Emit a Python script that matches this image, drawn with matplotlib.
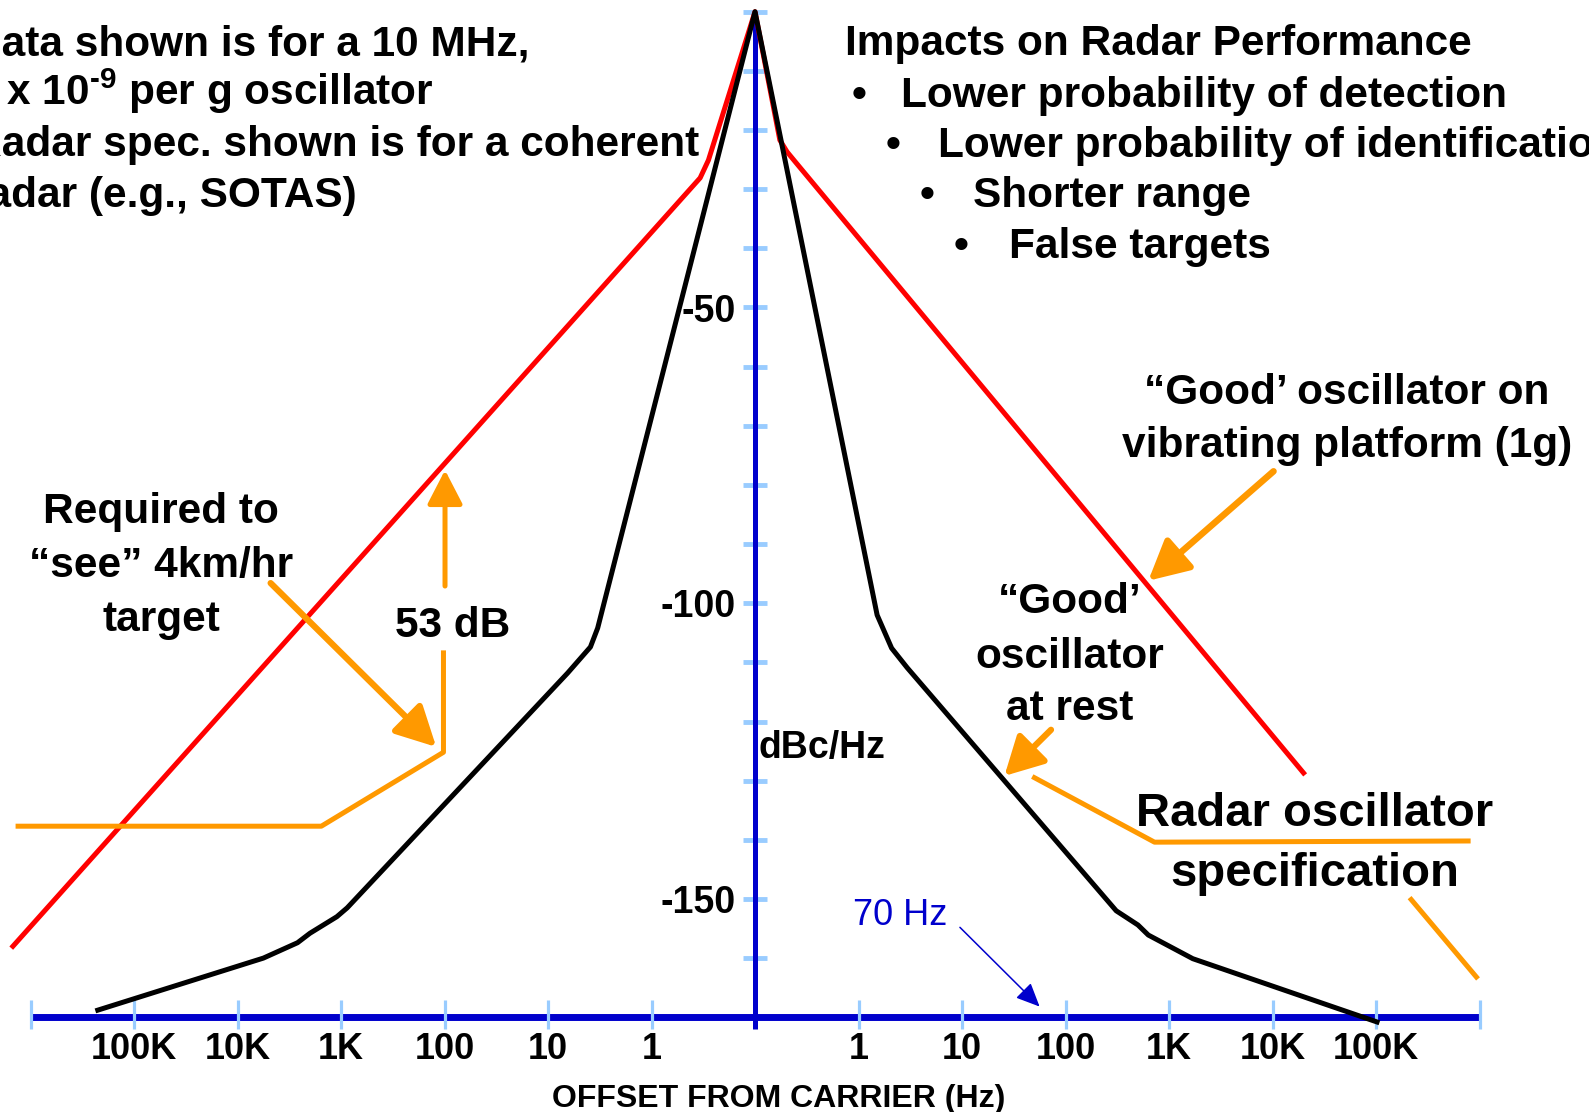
import matplotlib
matplotlib.use('Agg')
import matplotlib.pyplot as plt

plt.rcParams['font.family'] = ['Liberation Sans', 'DejaVu Sans']
plt.rcParams['mathtext.fontset'] = 'custom'
plt.rcParams['mathtext.rm'] = 'Liberation Sans:bold'
plt.rcParams['mathtext.bf'] = 'Liberation Sans:bold'
plt.rcParams['mathtext.default'] = 'bf'

# x = decades away from the carrier (+-1 -> 1 Hz, +-2 -> 10 Hz ... +-6 -> 100 kHz)
left_ticks = [-6, -5, -4, -3, -2, -1]
left_labels = ['100K', '10K', '1K', '100', '10', '1']
right_ticks = [1, 2, 3, 4, 5, 6]
right_labels = ['1', '10', '100', '1K', '10K', '100K']
axis_ends = [-7, 7]
end_ticks = [-7, 7]
db_ticks = list(range(0, -170, -10))
db_labels = [-50, -100, -150]
axis_floor = -170

# "Good" oscillator on vibrating platform (1g) - red
vib_x = [-7.17, -0.53, -0.45, 0.0, 0.24, 0.31, 0.39, 5.30]
vib_db = [-158.0, -28.1, -25.1, 0.0, -21.7, -23.7, -25.4, -128.7]

# "Good" oscillator at rest - black
rest_x = [-6.35, -4.75, -4.42, -4.30, -4.04, -3.94, -1.81, -1.59, -1.52, 0.0,
          1.18, 1.32, 1.47, 3.49, 3.70, 3.80, 4.23, 6.01]
rest_db = [-168.8, -160.0, -157.4, -155.8, -153.0, -151.5, -111.8, -107.4, -104.2, 0.0,
           -102.0, -107.6, -110.9, -152.0, -154.4, -156.1, -160.1, -170.8]

# radar oscillator specification (orange, left side)
spec_x = [-7.12, -4.19, -3.01, -3.01]
spec_db = [-137.7, -137.7, -125.2, -108.4]

# 53 dB gap arrow (from spec up to the red line)
gap_x = [-2.995, -2.995]
gap_db = [-97.1, -77.5]

# orange leaders and pointers
req_ptr_x = [-4.68, -3.08]
req_ptr_db = [-96.6, -124.3]
vib_ptr_x = [5.01, 3.80]
vib_ptr_db = [-77.7, -96.2]
rest_ptr_x = [2.86, 2.41]
rest_ptr_db = [-121.4, -129.2]
spec_lead_x = [2.70, 3.86, 6.89]
spec_lead_db = [-129.5, -140.4, -140.2]
spec_lead2_x = [6.34, 6.97]
spec_lead2_db = [-150.1, -163.2]

# 70 Hz pointer (blue)
hz70_x = [1.98, 2.75]
hz70_db = [-154.8, -168.2]

BLUE = '#0000CC'
LIGHT = '#99CCFF'
ORANGE = '#FF9900'

W, H = 1589, 1112
fig = plt.figure(figsize=(W / 100, H / 100), dpi=100)
ax = fig.add_axes([0, 0, 1, 1])
ax.set_xlim(-755 / 103.5, (W - 755) / 103.5)
ax.set_ylim(-(H - 11.7) / 5.915, 11.7 / 5.915)
ax.axis('off')


def fx(px):
    return px / W


def fy(py):
    return 1 - py / H


# axes
ax.hlines(db_ticks, -0.116, 0.116, color=LIGHT, lw=3.5, zorder=1)
ax.plot([0, 0], [0, -172], color=BLUE, lw=3.6, zorder=2, solid_capstyle='butt')
ax.plot(axis_ends, [axis_floor, axis_floor], color=BLUE, lw=5, zorder=2,
        solid_capstyle='butt')
ax.vlines(left_ticks + right_ticks + end_ticks, -167.1, -172, color=LIGHT, lw=2.3, zorder=3)

for t, lab in zip(left_ticks + right_ticks, left_labels + right_labels):
    ax.text(t, -177.1, lab, ha='center', va='baseline', fontsize=26,
            fontweight='bold')
for v in db_labels:
    ax.text(-0.19, v - 2.4, str(v), ha='right', va='baseline', fontsize=27,
            fontweight='bold')

# curves
ax.plot(vib_x, vib_db, color='#FF0000', lw=3.6, zorder=4, solid_joinstyle='round')
ax.plot(rest_x, rest_db, color='black', lw=3.6, zorder=5, solid_joinstyle='round')

# orange spec + leaders
ax.plot(spec_x, spec_db, color=ORANGE, lw=3.6, zorder=4)
ax.plot(spec_lead_x, spec_lead_db, color=ORANGE, lw=3.6, zorder=4)
ax.plot(spec_lead2_x, spec_lead2_db, color=ORANGE, lw=3.6, zorder=4)


def pointer(xs, ys, lw, hl, hw, ms, color=ORANGE):
    ax.annotate('', xy=(xs[1], ys[1]), xytext=(xs[0], ys[0]),
                arrowprops=dict(arrowstyle='-|>,head_length=%s,head_width=%s' % (hl, hw),
                                color=color, lw=lw, shrinkA=0, shrinkB=0,
                                mutation_scale=ms),
                zorder=6)


pointer(gap_x, gap_db, 3.6, 1.16, 0.6, 18)
pointer(req_ptr_x, req_ptr_db, 4.5, 1.35, 0.7, 18)
pointer(vib_ptr_x, vib_ptr_db, 4.7, 1.35, 0.7, 18)
pointer(rest_ptr_x, rest_ptr_db, 4.5, 1.3, 0.7, 18)
pointer(hz70_x, hz70_db, 1.1, 1.45, 0.65, 10, color=BLUE)

# text blocks
fs = 30.5
left_lines = ['Data shown is for a 10 MHz,',
              r'2 x 10$^{\text{-9}}$ per g oscillator',
              'Radar spec. shown is for a coherent',
              'radar (e.g., SOTAS)']
for line, b in zip(left_lines, [55, 105.5, 156, 207]):
    fig.text(fx(-28.5), fy(b), line, ha='left', va='baseline', fontsize=fs,
             fontweight='bold')

fig.text(fx(844.5), fy(55), 'Impacts on Radar Performance', ha='left',
         va='baseline', fontsize=fs, fontweight='bold')
impacts = ['Lower probability of detection', 'Lower probability of identification',
           'Shorter range', 'False targets']
for item, b, bx, tx in zip(impacts, [107, 157, 207, 258], [852, 886, 920, 954],
                           [901, 938, 973, 1009]):
    fig.text(fx(bx), fy(b), '\u2022', ha='left', va='baseline', fontsize=fs,
             fontweight='bold')
    fig.text(fx(tx), fy(b), item, ha='left', va='baseline', fontsize=fs,
             fontweight='bold')

for line, b in zip(['Required to', '\u201csee\u201d 4km/hr', 'target'], [523, 577, 631]):
    fig.text(fx(161), fy(b), line, ha='center', va='baseline', fontsize=fs,
             fontweight='bold')
fig.text(fx(453), fy(637), '53 dB', ha='center', va='baseline', fontsize=fs,
         fontweight='bold')

for line, b in zip(['\u201cGood\u2019 oscillator on', 'vibrating platform (1g)'], [404, 457]):
    fig.text(fx(1347), fy(b), line, ha='center', va='baseline', fontsize=fs,
             fontweight='bold')
for line, b in zip(['\u201cGood\u2019', 'oscillator', 'at rest'], [613, 667.5, 720.5]):
    fig.text(fx(1070), fy(b), line, ha='center', va='baseline', fontsize=fs,
             fontweight='bold')
for line, b in zip(['Radar oscillator', 'specification'], [825.6, 885.7]):
    fig.text(fx(1315), fy(b), line, ha='center', va='baseline', fontsize=34,
             fontweight='bold')

fig.text(fx(758), fy(758.3), 'dBc/Hz', ha='left', va='baseline', fontsize=27,
         fontweight='bold')
fig.text(fx(853), fy(925), '70 Hz', ha='left', va='baseline', fontsize=26,
         color=BLUE)
fig.text(fx(779), fy(1106.7), 'OFFSET FROM CARRIER (Hz)', ha='center', va='baseline',
         fontsize=23, fontweight='bold')

fig.savefig('out.png', dpi=100)
